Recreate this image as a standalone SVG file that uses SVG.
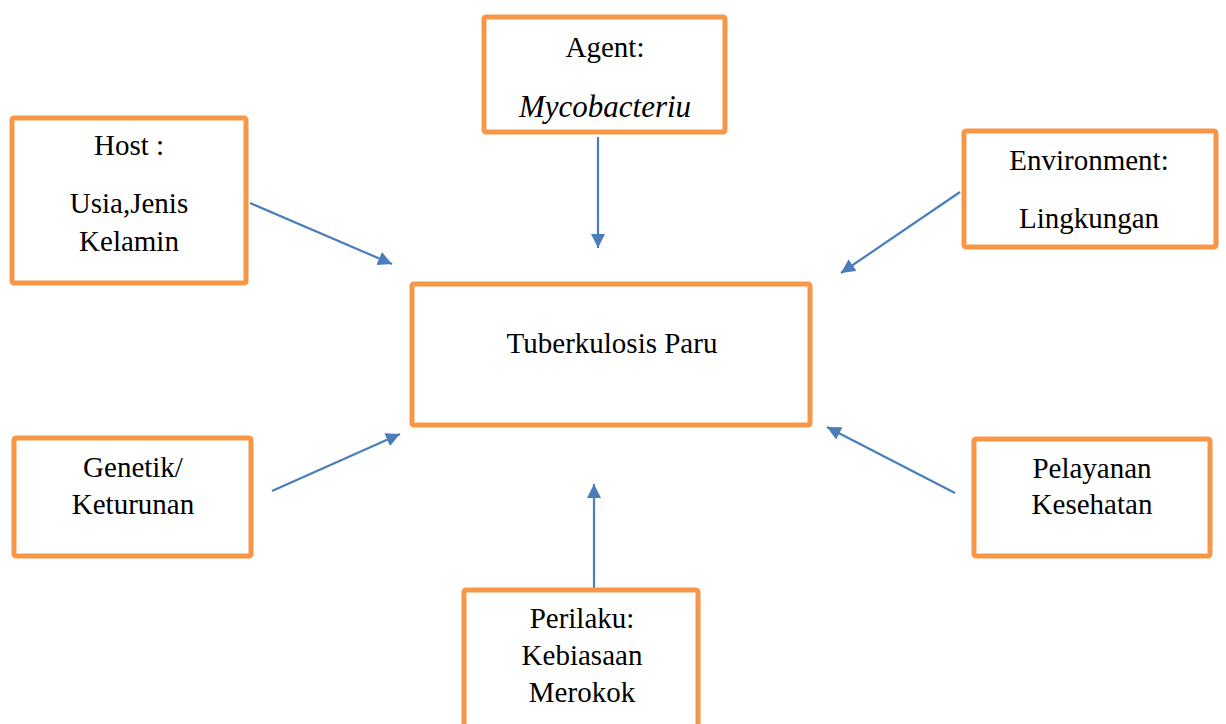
<svg xmlns="http://www.w3.org/2000/svg" width="1226" height="724" viewBox="0 0 1226 724">
<style>
.box{fill:#fff;stroke:#F79646;stroke-width:5;}
.t{font-family:"Liberation Serif","Times New Roman",serif;font-size:29px;fill:#000;text-anchor:middle;}
.it{font-style:italic;font-size:31px;}
.c{stroke:#4A7EBB;stroke-width:2.2;fill:none;marker-end:url(#ah);}
</style>
<defs>
<marker id="ah" markerUnits="userSpaceOnUse" markerWidth="16" markerHeight="16" refX="14" refY="7" orient="auto">
<path d="M0,0 L14,7 L0,14 z" fill="#4A7EBB"/>
</marker>
</defs>
<rect width="1226" height="724" fill="#fff"/>
<g id="connectors">
<line class="c" x1="598" y1="137" x2="598" y2="248"/>
<line class="c" x1="250" y1="203" x2="392" y2="264"/>
<line class="c" x1="960" y1="192" x2="841" y2="273"/>
<line class="c" x1="272" y1="491" x2="400" y2="434"/>
<line class="c" x1="955" y1="493" x2="827" y2="427"/>
<line class="c" x1="594" y1="590" x2="594" y2="484"/>
</g>
<g id="agent">
<rect class="box" x="484" y="17" width="241" height="115" rx="2"/>
<text class="t" x="605" y="57">Agent:</text>
<text class="t it" x="605" y="117">Mycobacteriu</text>
</g>
<g id="host">
<rect class="box" x="12" y="118" width="234" height="165" rx="2"/>
<text class="t" x="129" y="155">Host :</text>
<text class="t" x="129" y="213">Usia,Jenis</text>
<text class="t" x="129" y="251">Kelamin</text>
</g>
<g id="environment">
<rect class="box" x="964" y="131" width="252" height="116" rx="2"/>
<text class="t" x="1089" y="170">Environment:</text>
<text class="t" x="1089" y="228">Lingkungan</text>
</g>
<g id="tuberkulosis">
<rect class="box" x="412" y="284" width="398" height="141" rx="2"/>
<text class="t" x="612" y="353">Tuberkulosis Paru</text>
</g>
<g id="genetik">
<rect class="box" x="14" y="438" width="237" height="118" rx="2"/>
<text class="t" x="133" y="477">Genetik/</text>
<text class="t" x="133" y="514">Keturunan</text>
</g>
<g id="pelayanan">
<rect class="box" x="974" y="439" width="236" height="117" rx="2"/>
<text class="t" x="1092" y="478">Pelayanan</text>
<text class="t" x="1092" y="514">Kesehatan</text>
</g>
<g id="perilaku">
<rect class="box" x="464" y="590" width="234" height="150" rx="2"/>
<text class="t" x="582" y="628">Perilaku:</text>
<text class="t" x="582" y="665">Kebiasaan</text>
<text class="t" x="582" y="702">Merokok</text>
</g>
</svg>
